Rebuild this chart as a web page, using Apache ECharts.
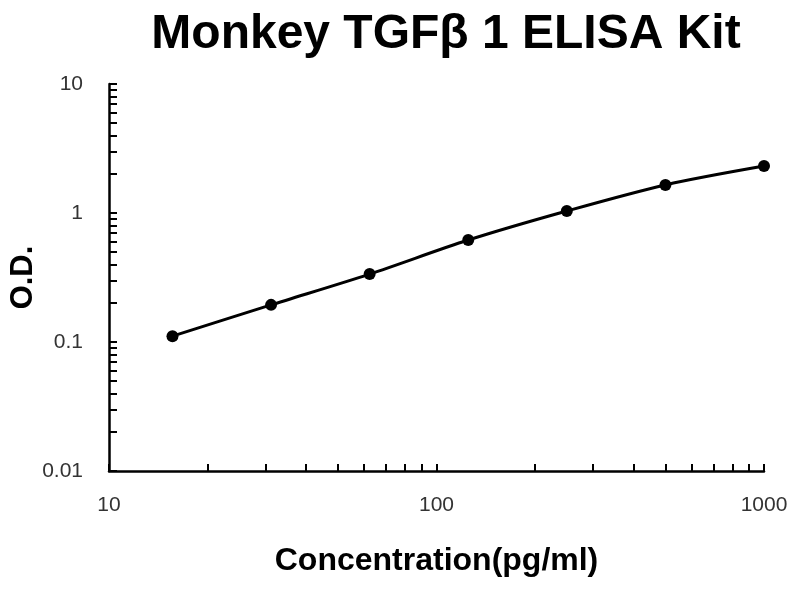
<!DOCTYPE html>
<html>
<head>
<meta charset="utf-8">
<script src="https://cdn.jsdelivr.net/npm/echarts@6/dist/echarts.min.js"></script>
<style>html,body{margin:0;padding:0;background:#fff}#c{width:800px;height:600px}</style>
</head>
<body>
<div id="c"></div>
<script>
var concentrations = [15.625, 31.25, 62.5, 125, 250, 500, 1000];
var odValues = [0.111, 0.194, 0.336, 0.617, 1.036, 1.65, 2.31];
var xLabelValues = [10, 100, 1000];
var yLabelValues = [0.01, 0.1, 1, 10];
var xTickValues = [10,20,30,40,50,60,70,80,90,100,200,300,400,500,600,700,800,900,1000];
var yTickValues = [0.01,0.02,0.03,0.04,0.05,0.06,0.07,0.08,0.09,0.1,0.2,0.3,0.4,0.5,0.6,0.7,0.8,0.9,1,2,3,4,5,6,7,8,9,10];

var points = concentrations.map(function (c, i) { return [c, odValues[i]]; });
function fmt(v) { return String(+(+v).toPrecision(3)); }

var chart = echarts.init(document.getElementById('c'), null, {renderer: 'canvas'});
chart.setOption({
  backgroundColor: '#ffffff',
  animation: false,
  title: {
    text: 'Monkey TGFβ 1 ELISA Kit',
    left: 441, top: 6, textAlign: 'center',
    textStyle: {fontFamily: 'Liberation Sans, Arial, sans-serif', fontWeight: 'bold', fontSize: 48, color: '#000'}
  },
  grid: {left: 109, right: 36, top: 84, bottom: 129, containLabel: false, outerBoundsMode: 'none'},
  xAxis: {
    type: 'log', logBase: 10, min: 10, max: 1000,
    name: 'Concentration(pg/ml)', nameLocation: 'middle', nameGap: 74, nameMoveOverlap: false,
    nameTextStyle: {fontFamily: 'Liberation Sans, Arial, sans-serif', fontWeight: 'bold', fontSize: 32, color: '#000'},
    axisLine: {lineStyle: {color: '#000', width: 2.5}},
    axisTick: {show: true, inside: true, length: 7, lineStyle: {color: '#000', width: 2}, customValues: xTickValues},
    axisLabel: {margin: 24, fontFamily: 'Liberation Sans, Arial, sans-serif', fontSize: 21, color: '#333', customValues: xLabelValues, formatter: fmt},
    splitLine: {show: false}
  },
  yAxis: {
    type: 'log', logBase: 10, min: 0.01, max: 10,
    name: 'O.D.', nameLocation: 'middle', nameGap: 70, nameRotate: 90, nameMoveOverlap: false,
    nameTextStyle: {fontFamily: 'Liberation Sans, Arial, sans-serif', fontWeight: 'bold', fontSize: 31, color: '#000'},
    axisLine: {lineStyle: {color: '#000', width: 2.5}},
    axisTick: {show: true, inside: true, length: 8, lineStyle: {color: '#000', width: 2}, customValues: yTickValues},
    axisLabel: {margin: 26, fontFamily: 'Liberation Sans, Arial, sans-serif', fontSize: 21, color: '#333', customValues: yLabelValues, formatter: fmt},
    splitLine: {show: false}
  },
  series: [{
    type: 'line',
    data: points,
    smooth: 0.3,
    symbol: 'circle',
    symbolSize: 12,
    lineStyle: {color: '#000', width: 3},
    itemStyle: {color: '#000'}
  }]
});
</script>
</body>
</html>
